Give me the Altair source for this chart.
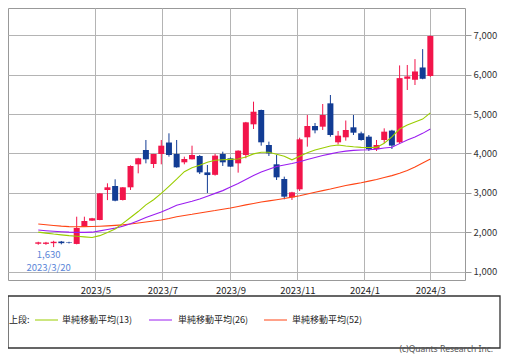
import altair as alt
import pandas as pd

# weekly candles (week ending Friday)
dates = pd.date_range("2023-03-10", periods=52, freq="7D").strftime("%Y/%m/%d 00:00").tolist()

opens = [1715, 1712, 1730, 1770, 1748, 1710, 2147, 2300, 2316, 3076,
         3177, 2823, 3144, 3726, 4089, 3734, 3987, 4278, 3987, 3777,
         3853, 3937, 3522, 3460, 3987, 3878, 3751, 3962, 4739, 5101,
         4215, 3726, 3354, 2890, 3093, 4410, 4696, 4679, 5270, 4283,
         4410, 4663, 4511, 4426, 4110, 4342, 4580, 4283, 5892, 5867,
         6178, 5962]
highs = [1765, 1762, 1790, 1785, 1765, 2400, 2400, 2370, 3000, 3245,
         3346, 3150, 3700, 3890, 4342, 3990, 4342, 4511, 4342, 3920,
         4198, 3960, 3709, 3990, 4046, 3900, 4080, 4800, 5312, 5110,
         4300, 3962, 3414, 3030, 4400, 4975, 4772, 5253, 5481, 4570,
         4835, 4975, 4553, 4468, 4342, 4637, 4600, 6230, 6241, 6390,
         6643, 6990]
lows = [1690, 1688, 1630, 1700, 1722, 1700, 2140, 2295, 2310, 2820,
        2790, 2810, 3076, 3498, 3751, 3633, 3726, 3920, 3640, 3726,
        3850, 3480, 3000, 3440, 3684, 3660, 3515, 3880, 4620, 4198,
        3937, 3329, 2840, 2823, 3050, 4173, 4511, 4595, 4426, 4232,
        4325, 4468, 4325, 4063, 4063, 4266, 4114, 4240, 5608, 5734,
        5880, 5940]
closes = [1750, 1745, 1765, 1730, 1735, 2114, 2291, 2360, 2990, 3144,
          2805, 3144, 3684, 3878, 3853, 3987, 4198, 3962, 3650, 3861,
          3962, 3522, 3454, 3946, 3777, 3667, 4072, 4789, 5058, 4283,
          4004, 3397, 2907, 3017, 4359, 4696, 4587, 4975, 4468, 4451,
          4595, 4527, 4342, 4110, 4215, 4553, 4200, 5909, 5951, 6077,
          5892, 6975]

sma13 = [2010, 1985, 1960, 1940, 1920, 1905, 1890, 1875, 1920, 2000,
         2090, 2230, 2380, 2530, 2700, 2830, 2990, 3170, 3350, 3540,
         3640, 3700, 3780, 3830, 3840, 3850, 3860, 3910, 3990, 4030,
         4030, 3980, 3930, 3840, 3930, 4020, 4090, 4140, 4190, 4215,
         4190, 4170, 4155, 4150, 4155, 4260, 4420, 4620, 4720, 4800,
         4870, 5030]
sma26 = [2063, 2045, 2030, 2018, 2008, 2003, 2003, 2008, 2040, 2075,
         2110, 2160, 2220, 2300, 2380, 2450, 2520, 2600, 2690, 2740,
         2790, 2850, 2920, 2990, 3060, 3150, 3240, 3340, 3440, 3530,
         3600, 3670, 3710, 3745, 3790, 3850, 3900, 3950, 3990, 4030,
         4060, 4080, 4090, 4095, 4110, 4140, 4160, 4250, 4340, 4420,
         4510, 4620]
sma52 = [2215, 2195, 2178, 2160, 2148, 2145, 2148, 2152, 2158, 2168,
         2180, 2192, 2215, 2240, 2266, 2290, 2315, 2355, 2400, 2430,
         2460, 2495, 2525, 2555, 2590, 2620, 2660, 2700, 2735, 2770,
         2800, 2830, 2860, 2895, 2930, 2975, 3020, 3060, 3100, 3145,
         3190, 3225, 3260, 3300, 3340, 3390, 3440, 3500, 3570, 3660,
         3760, 3860]

ma_names = ["単純移動平均(13)", "単純移動平均(26)", "単純移動平均(52)"]
ma_colors = ["#9acd00", "#9b1ef0", "#ff4515"]
up_color = "#f2154b"
down_color = "#123c94"

low_label_date = "2023/03/24 00:00"
low_label_text = ["1,630", "2023/3/20"]

y_ticks = [1000, 2000, 3000, 4000, 5000, 6000, 7000]

df = pd.DataFrame({"date": dates, "open": opens, "high": highs,
                   "low": lows, "close": closes})
df["dir"] = ["up" if c >= o else "down" for o, c in zip(opens, closes)]

ann = pd.DataFrame({"date": [low_label_date], "low": [1630],
                    "label": ["\n".join(low_label_text)]})

FONT = "Noto Sans CJK JP"

xscale = alt.Scale(domain=[alt.DateTime(year=2023, month=2, date=15),
                           alt.DateTime(year=2024, month=3, date=28)])
xaxis = alt.Axis(values=[alt.DateTime(year=2023, month=5, date=1),
                         alt.DateTime(year=2023, month=7, date=1),
                         alt.DateTime(year=2023, month=9, date=1),
                         alt.DateTime(year=2023, month=11, date=1),
                         alt.DateTime(year=2024, month=1, date=1),
                         alt.DateTime(year=2024, month=3, date=1)],
                 format="%Y/%-m", title=None, grid=True, gridColor="#b4b4b4",
                 tickSize=0, labelPadding=5, domain=False, labelFontSize=9.5,
                 labelColor="#222", labelFont=FONT)
yscale = alt.Scale(domain=[797, 7684], nice=False, zero=False)
yaxis = alt.Axis(orient="right", values=y_ticks, format=",d", title=None,
                 grid=True, gridColor="#b4b4b4", tickSize=6, tickColor="#999",
                 domain=False, labelPadding=2, labelFontSize=9.5,
                 labelColor="#333", labelFont=FONT)

X = alt.X("date:T", scale=xscale, axis=xaxis)
color = alt.Color("dir:N", scale=alt.Scale(domain=["up", "down"],
                                           range=[up_color, down_color]),
                  legend=None)

wicks = alt.Chart(df).mark_rule(strokeWidth=1).encode(
    x=X, y=alt.Y("low:Q", scale=yscale, axis=yaxis), y2="high:Q", color=color)

bodies = alt.Chart(df).mark_bar(size=6).encode(
    x=X, y=alt.Y("open:Q", scale=yscale, axis=yaxis), y2="close:Q", color=color)

line_layers = []
for vals, col in zip([sma52, sma26, sma13], [ma_colors[2], ma_colors[1], ma_colors[0]]):
    mdf = pd.DataFrame({"date": dates, "value": vals})
    line_layers.append(alt.Chart(mdf).mark_line(strokeWidth=1.1, color=col).encode(
        x=X, y=alt.Y("value:Q", scale=yscale, axis=yaxis)))

annot = alt.Chart(ann).mark_text(
    align="center", baseline="top", dx=-5, dy=3, fontSize=9.5,
    lineBreak="\n", lineHeight=12.5, color="#5b86d8", font=FONT
).encode(x=X, y=alt.Y("low:Q", scale=yscale, axis=yaxis), text="label:N")

one = pd.DataFrame({"a": [0]})

box = alt.Chart(one).mark_rect(fill="white", stroke="#333", strokeWidth=1.3).encode(
    x=alt.value(0), x2=alt.value(492), y=alt.value(288), y2=alt.value(340))

leg_y = 312
legend_layers = [
    alt.Chart(one).mark_text(align="left", baseline="middle", fontSize=9,
                             font=FONT, color="#222").encode(
        x=alt.value(1), y=alt.value(leg_y), text=alt.value("上段:"))
]
for lx, tx, name, col in zip([27, 141, 256], [54, 170, 284], ma_names, ma_colors):
    legend_layers.append(alt.Chart(one).mark_rule(color=col, strokeWidth=1).encode(
        x=alt.value(lx), x2=alt.value(lx + 23), y=alt.value(leg_y)))
    legend_layers.append(alt.Chart(one).mark_text(
        align="left", baseline="middle", fontSize=9, font=FONT, color="#222").encode(
        x=alt.value(tx), y=alt.value(leg_y), text=alt.value(name)))

copy = alt.Chart(one).mark_text(align="right", baseline="alphabetic", fontSize=8.5,
                                font="Noto Sans", color="#555").encode(
    x=alt.value(485), y=alt.value(344), text=alt.value("(c)Quants Research Inc."))

chart = alt.layer(wicks, bodies, *line_layers, annot, box, *legend_layers, copy).properties(
    width=457, height=272,
    autosize=alt.AutoSizeParams(type="none"),
    padding={"left": 0, "top": 0, "right": 36, "bottom": 76},
    background="white",
).configure_view(stroke="#999", strokeWidth=1)

chart.save("out.html", embed_options={"renderer": "svg", "actions": False})
